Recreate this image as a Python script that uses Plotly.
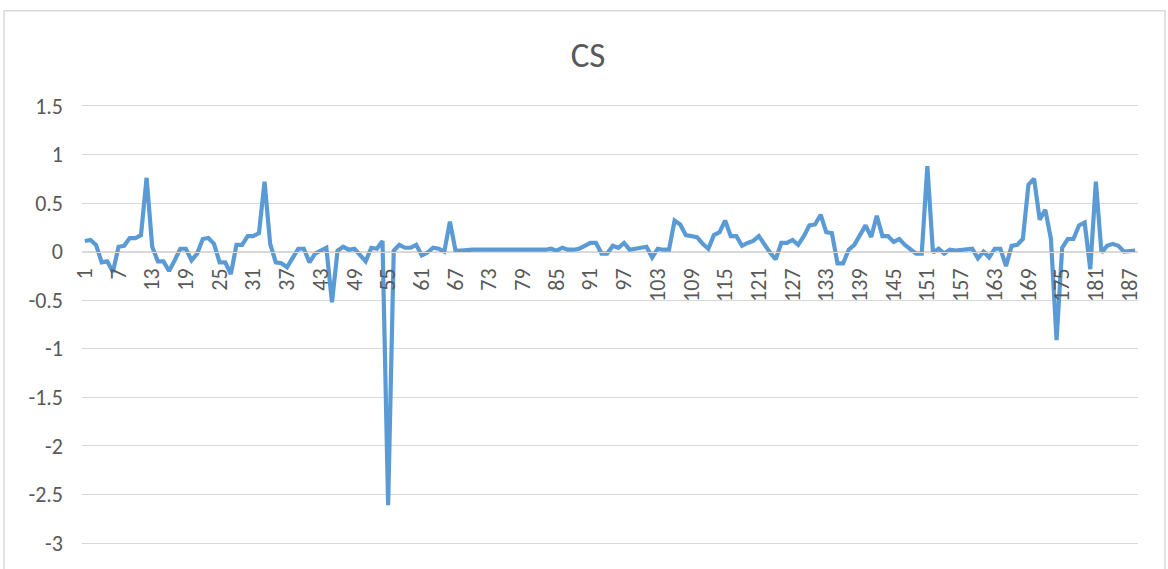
import plotly.graph_objects as go

# CS series, one value per observation (1..188)
cs_values = [
    0.11, 0.12, 0.07, -0.11, -0.10, -0.21, 0.05, 0.06, 0.14, 0.14,
    0.17, 0.76, 0.05, -0.10, -0.10, -0.20, -0.09, 0.03, 0.03, -0.09,
    -0.02, 0.13, 0.14, 0.08, -0.11, -0.11, -0.23, 0.07, 0.07, 0.16,
    0.16, 0.19, 0.72, 0.08, -0.11, -0.12, -0.16, -0.06, 0.03, 0.03,
    -0.11, -0.02, 0.01, 0.04, -0.52, 0.01, 0.05, 0.02, 0.03, -0.04,
    -0.10, 0.04, 0.03, 0.11, -2.61, 0.01, 0.07, 0.04, 0.04, 0.07,
    -0.04, -0.01, 0.04, 0.03, 0.00, 0.31, 0.01, 0.01, 0.02, 0.02,
    0.02, 0.02, 0.02, 0.02, 0.02, 0.01, 0.01, 0.01, 0.01, 0.02,
    0.02, 0.02, 0.02, 0.03, 0.01, 0.04, 0.02, 0.02, 0.03, 0.06,
    0.09, 0.09, -0.02, -0.02, 0.06, 0.04, 0.09, 0.02, 0.03, 0.05,
    0.05, -0.06, 0.03, 0.02, 0.02, 0.32, 0.28, 0.17, 0.16, 0.15,
    0.08, 0.03, 0.17, 0.20, 0.32, 0.16, 0.16, 0.06, 0.09, 0.11,
    0.16, 0.07, -0.01, -0.08, 0.09, 0.09, 0.12, 0.07, 0.16, 0.27,
    0.28, 0.38, 0.20, 0.19, -0.12, -0.12, 0.02, 0.07, 0.17, 0.27,
    0.15, 0.37, 0.16, 0.16, 0.10, 0.13, 0.07, 0.03, -0.02, -0.02,
    0.88, -0.01, 0.03, -0.02, 0.02, 0.01, 0.02, 0.02, 0.03, -0.07,
    0.00, -0.06, 0.03, 0.03, -0.15, 0.06, 0.07, 0.13, 0.69, 0.75,
    0.33, 0.43, 0.13, -0.91, 0.04, 0.13, 0.13, 0.27, 0.30, -0.18,
    0.72, -0.01, 0.06, 0.08, 0.06, 0.00, 0.00, 0.01,
]
categories = list(range(1, len(cs_values) + 1))

# every sixth category is labelled
x_tick_vals = list(range(1, 188, 6))
x_tick_text = [str(v) for v in x_tick_vals]

y_tick_vals = [1.5, 1, 0.5, 0, -0.5, -1, -1.5, -2, -2.5, -3]
y_tick_text = ["1.5", "1", "0.5", "0", "-0.5", "-1", "-1.5", "-2", "-2.5", "-3"]

FONT = "Calibri, Carlito, 'Liberation Sans Narrow', 'Open Sans', sans-serif"
TEXT_COLOR = "#595959"
GRID_COLOR = "#D9D9D9"

fig = go.Figure()
fig.add_trace(go.Scatter(
    x=categories,
    y=cs_values,
    mode="lines",
    line=dict(color="#5B9BD5", width=4.2),
    showlegend=False,
    hoverinfo="x+y",
))

# small padding so the end gridlines (-3 and 1.5) are not clipped away
y_min, y_max = -3.02, 1.52
zero_frac = (0 - y_min) / (y_max - y_min)

M_L, M_R, M_T, M_B = 82, 30, 104, 21
plot_w = 1168 - M_L - M_R
plot_h = 569 - M_T - M_B

fig.update_layout(
    width=1168,
    height=569,
    margin=dict(l=M_L, r=M_R, t=M_T, b=M_B),
    paper_bgcolor="white",
    plot_bgcolor="white",
    font=dict(family=FONT, color=TEXT_COLOR, size=22),
    title=dict(
        text="CS",
        x=(588 - M_L) / plot_w, xref="paper", xanchor="center",
        y=1 - 55 / 569, yref="container", yanchor="middle",
        font=dict(family=FONT, size=35, color=TEXT_COLOR),
    ),
    xaxis=dict(
        range=[0.5, len(cs_values) + 0.5],
        tickmode="array",
        tickvals=x_tick_vals,
        ticktext=x_tick_text,
        tickangle=-90,
        showgrid=False,
        zeroline=False,
        showline=True,
        linecolor=GRID_COLOR,
        linewidth=1,
        anchor="free",
        position=zero_frac,
        ticks="",
        ticklabelstandoff=7,
        tickfont=dict(family=FONT, size=22, color=TEXT_COLOR),
    ),
    yaxis=dict(
        range=[y_min, y_max],
        tickmode="array",
        tickvals=y_tick_vals,
        ticktext=y_tick_text,
        showgrid=True,
        gridcolor=GRID_COLOR,
        gridwidth=1,
        zeroline=False,
        showline=False,
        ticks="",
        ticklabelstandoff=18,
        tickfont=dict(family=FONT, size=22, color=TEXT_COLOR),
    ),
    shapes=[
        # chart-area frame
        dict(
            type="rect", xref="paper", yref="paper",
            x0=(4 - M_L) / plot_w, x1=(1165 - M_L) / plot_w,
            y0=(569 - M_B - 600) / plot_h, y1=(569 - M_B - 10) / plot_h,
            line=dict(color=GRID_COLOR, width=1.5),
            fillcolor="rgba(0,0,0,0)",
            layer="below",
        )
    ],
)

fig.write_html("out.html")
